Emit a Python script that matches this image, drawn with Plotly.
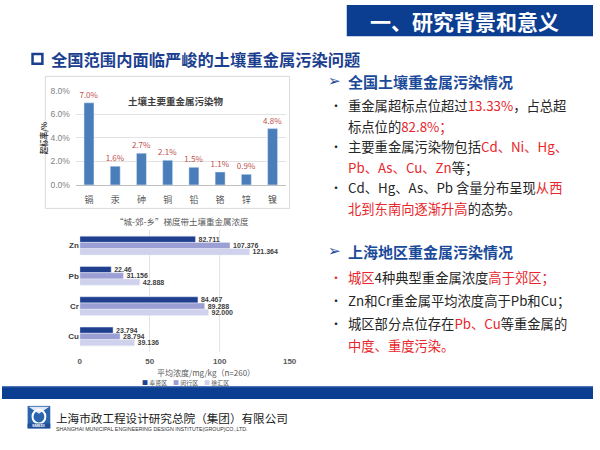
import plotly.graph_objects as go

W, H = 600, 450
def px(x): return x / W
def py(y): return 1 - y / H

CJK = "Noto Sans CJK SC, sans-serif"

# ---- data: top chart ----
metals_cn = ["镉", "汞", "砷", "铜", "铅", "铬", "锌", "镍"]
exceed_rate = [7.0, 1.6, 2.7, 2.1, 1.5, 1.1, 0.9, 4.8]

# ---- data: bottom chart ----
metals_en = ["Zn", "Pb", "Cr", "Cu"]
districts = ["奉贤区", "闵行区", "徐汇区"]
fengxian = [82.711, 22.46, 84.467, 23.794]
minhang = [107.376, 31.156, 89.288, 28.794]
xuhui = [121.364, 42.888, 92.000, 39.136]
fengxian_lbl = ["82.711", "22.46", "84.467", "23.794"]
minhang_lbl = ["107.376", "31.156", "89.288", "28.794"]
xuhui_lbl = ["121.364", "42.888", "92.000", "39.136"]
dist_colors = ["#213f8f", "#9c9fd4", "#d0d1ec"]

fig = go.Figure()

fig.add_trace(go.Bar(
    x=metals_cn, y=exceed_rate, xaxis="x", yaxis="y",
    marker=dict(color="#4a7ebb"), width=0.38,
    text=[f"{v:.1f}%" for v in exceed_rate], textposition="outside",
    textfont=dict(size=8, color="#c0504d", family=CJK),
    constraintext="none", cliponaxis=False, showlegend=False, hoverinfo="skip"))

for name, vals, lbls, col in zip(districts, [fengxian, minhang, xuhui],
                                 [fengxian_lbl, minhang_lbl, xuhui_lbl], dist_colors):
    fig.add_trace(go.Bar(
        y=metals_en, x=vals, orientation="h", xaxis="x2", yaxis="y2", name=name,
        marker=dict(color=col), text=lbls, textposition="outside",
        textfont=dict(size=7, color="#404040", family="Liberation Sans, Arial", weight="bold"),
        constraintext="none", cliponaxis=False, showlegend=False, hoverinfo="skip"))

shapes = [
    # header box
    dict(type="rect", xref="paper", yref="paper", x0=px(350), x1=px(600), y0=py(32), y1=py(0),
         fillcolor="#0b3d91", line=dict(width=0), layer="below"),
    # subtitle square
    dict(type="rect", xref="paper", yref="paper", x0=px(31), x1=px(41), y0=py(60), y1=py(50),
         fillcolor="white", line=dict(color="#1b3f8f", width=2.5)),
    # top chart frame
    dict(type="rect", xref="paper", yref="paper", x0=px(44), x1=px(292), y0=py(208), y1=py(73),
         fillcolor="white", line=dict(color="#d9d9d9", width=1), layer="below"),
    # footer band
    dict(type="rect", xref="paper", yref="paper", x0=0, x1=1, y0=py(403), y1=py(390),
         fillcolor="#0b3d91", line=dict(width=0)),
    dict(type="line", xref="paper", yref="paper", x0=0, x1=1, y0=py(390.5), y1=py(390.5),
         line=dict(color="#4f74b8", width=1)),
    # logo
    dict(type="rect", xref="paper", yref="paper", x0=px(26), x1=px(49), y0=py(433), y1=py(410),
         fillcolor="#2a64ad", line=dict(width=0)),
    dict(type="path", xref="paper", yref="paper",
         path=f"M {px(27)},{py(411)} L {px(37.5)},{py(418)} L {px(48)},{py(411)} Z",
         fillcolor="#dfe8f4", line=dict(width=0)),
    dict(type="circle", xref="paper", yref="paper", x0=px(31), x1=px(44), y0=py(428), y1=py(414),
         fillcolor="rgba(0,0,0,0)", line=dict(color="white", width=2)),
    dict(type="rect", xref="paper", yref="paper", x0=px(26), x1=px(49), y0=py(433), y1=py(428),
         fillcolor="#1d4f9a", line=dict(width=0)),
]

annotations = []
def ann(x, y, text, size, color="#262626", anchor="left", bold=False, family=CJK, yanchor="middle"):
    annotations.append(dict(
        xref="paper", yref="paper", x=px(x), y=py(y), text=text, showarrow=False,
        xanchor=anchor, yanchor=yanchor,
        font=dict(size=size, color=color, family=family, weight="bold" if bold else "normal")))

# header
ann(470, 16, "一、研究背景和意义", 21, color="white", anchor="center", bold=True)
# subtitle
ann(48, 55, "全国范围内面临严峻的土壤重金属污染问题", 16.3, color="#1b3f8f", bold=True)

# chart titles
ann(177, 98, "土壤主要重金属污染物", 9.5, color="#404040", anchor="center", bold=True)
ann(183, 221, "“城-郊-乡”梯度带土壤重金属浓度", 8.5, color="#595959", anchor="center")
ann(207, 376, "平均浓度/mg/kg（n=260）", 8, color="#595959", anchor="center")

# manual legend
leg_x = [140, 171.5, 203]
for lx, name, col in zip(leg_x, districts, dist_colors):
    ann(lx, 386, f"<span style='color:{col}'>■</span> {name}", 6, color="#595959")

RED = "#e8262b"
def red(s): return f"<span style='color:{RED}'>{s}</span>"

# right panel
HEAD = "#1b4a9a"
ann(329, 78, "➢", 15, color=HEAD, family="DejaVu Sans")
ann(349, 78, "全国土壤重金属污染情况", 15, color=HEAD, bold=True)
body1 = [
    (103, "重金属超标点位超过" + red("13.33%") + "，占总超", True),
    (124, "标点位的" + red("82.8%；"), False),
    (145, "主要重金属污染物包括" + red("Cd、Ni、Hg、"), True),
    (166, red("Pb、As、Cu、Zn") + "等；", False),
    (187, "Cd、Hg、As、Pb 含量分布呈现" + red("从西"), True),
    (208, red("北到东南向逐渐升高") + "的态势。", False),
]
for y, t, bullet in body1:
    if bullet:
        ann(331, y, "•", 12, color="#262626")
    ann(349, y, t, 13.3)

ann(329, 252, "➢", 15, color=HEAD, family="DejaVu Sans")
ann(349, 252, "上海地区重金属污染情况", 15, color=HEAD, bold=True)
body2 = [
    (279, red("城区") + "4种典型重金属浓度" + red("高于郊区；"), RED),
    (302, "Zn和Cr重金属平均浓度高于Pb和Cu；", "#262626"),
    (326, "城区部分点位存在" + red("Pb、Cu") + "等重金属的", "#262626"),
    (348, red("中度、重度污染。"), None),
]
for y, t, bcol in body2:
    if bcol:
        ann(331, y, "•", 12, color=bcol)
    ann(349, y, t, 13.3)

# footer
ann(53, 422, "上海市政工程设计研究总院（集团）有限公司", 11.6, color="#1a1a1a")
ann(53, 433.5, "SHANGHAI MUNICIPAL ENGINEERING DESIGN INSTITUTE(GROUP)CO.,LTD.", 5.3,
    color="#333333", family="Liberation Sans, Arial")
ann(37.5, 430.5, "SMEDI", 4, color="white", anchor="center", bold=True, family="Liberation Sans, Arial")

fig.update_layout(
    width=W, height=H, margin=dict(l=0, r=0, t=0, b=0),
    paper_bgcolor="white", plot_bgcolor="rgba(0,0,0,0)",
    barmode="group", bargap=0.38, bargroupgap=0,
    shapes=shapes, annotations=annotations,
    xaxis=dict(domain=[px(75), px(288)], anchor="y", type="category",
               tickfont=dict(size=9, color="#595959", family=CJK), ticklabelstandoff=6,
               showline=True, linecolor="#bfbfbf", linewidth=1, ticks="", showgrid=False,
               fixedrange=True),
    yaxis=dict(domain=[py(184), py(88)], anchor="x", range=[0, 8], dtick=2,
               tickformat=".1f", ticksuffix="%", showgrid=True, gridcolor="#e3e3e3",
               zeroline=False, ticklabelstandoff=5,
               tickfont=dict(size=8.5, color="#7f7f7f", family="Liberation Sans, Arial"),
               title=dict(text="超标率/%", font=dict(size=7.5, color="#404040", family=CJK, weight="bold"),
                          standoff=1)),
    xaxis2=dict(domain=[px(79), px(292)], anchor="y2", range=[0, 150], dtick=50,
                showgrid=True, gridcolor="#e3e3e3", zeroline=False, showline=False,
                ticklabelstandoff=3,
                tickfont=dict(size=8, color="#595959", family="Liberation Sans, Arial", weight="bold")),
    yaxis2=dict(domain=[py(354.5), py(230.5)], anchor="x2", type="category",
                autorange="reversed", showgrid=False, ticks="",
                tickfont=dict(size=8, color="#404040", family="Liberation Sans, Arial", weight="bold")),
)

fig.write_html("out.html", config={"displayModeBar": False},
               post_script="document.body.style.margin='0';document.body.style.overflow='hidden';")
